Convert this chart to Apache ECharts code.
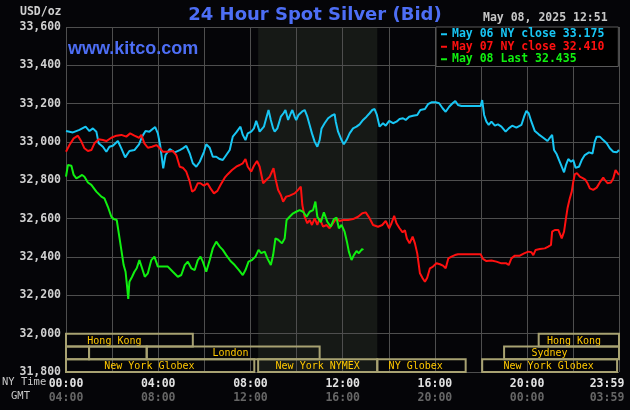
<!DOCTYPE html>
<html>
<head>
<meta charset="utf-8">
<script src="https://cdn.jsdelivr.net/npm/echarts@6/dist/echarts.min.js"></script>
<style>
    html, body { margin: 0; padding: 0; background: #050508; }
    #chart { width: 630px; height: 410px; }
</style>
</head>
<body>
<div id="chart"></div>
<script>
// x = minutes after 00:00 NY time, y = USD/oz
var may06Close = [
    [0,33.057],[18,33.05],[35,33.063],[51,33.08],[61,33.057],[70,33.071],[79,33.054],[85,32.993],[96,32.975],[105,32.949],
    [113,32.975],[122,32.98],[135,33.005],[144,32.967],[154,32.92],[165,32.953],[178,32.958],[190,32.988],[198,33.028],[207,33.057],
    [217,33.054],[232,33.078],[239,33.045],[245,32.984],[253,32.863],[259,32.932],[270,32.963],[283,32.946],[296,32.958],[304,32.967],
    [313,32.98],[322,32.94],[330,32.889],[339,32.871],[348,32.897],[359,32.949],[365,32.988],[374,32.97],[382,32.923],[391,32.923],
    [400,32.911],[408,32.906],[417,32.932],[426,32.958],[434,33.028],[443,33.05],[454,33.08],[460,33.037],[467,33.01],[473,33.045],
    [482,33.054],[489,33.071],[495,33.11],[504,33.054],[508,33.063],[515,33.08],[521,33.124],[527,33.167],[533,33.115],[539,33.071],
    [543,33.054],[550,33.071],[559,33.132],[566,33.15],[571,33.167],[578,33.115],[585,33.15],[589,33.167],[595,33.132],[599,33.115],
    [605,33.141],[614,33.158],[621,33.167],[628,33.132],[634,33.089],[640,33.045],[647,33.002],[654,32.975],[660,33.01],[665,33.071],
    [673,33.098],[682,33.124],[691,33.137],[699,33.145],[702,33.106],[708,33.054],[717,33.01],[723,32.988],[730,33.01],[738,33.045],
    [747,33.071],[756,33.08],[764,33.092],[773,33.115],[782,33.132],[790,33.15],[797,33.167],[803,33.172],[809,33.141],[816,33.08],
    [825,33.098],[832,33.085],[841,33.11],[851,33.098],[860,33.106],[868,33.12],[877,33.124],[884,33.115],[893,33.132],[903,33.137],
    [914,33.141],[922,33.167],[934,33.172],[942,33.197],[951,33.207],[962,33.207],[971,33.202],[980,33.176],[988,33.158],[997,33.184],
    [1006,33.202],[1013,33.214],[1020,33.193],[1029,33.188],[1079,33.188],[1083,33.219],[1088,33.141],[1094,33.106],[1100,33.089],[1107,33.106],
    [1116,33.085],[1124,33.092],[1133,33.08],[1144,33.054],[1152,33.071],[1161,33.085],[1172,33.075],[1185,33.089],[1192,33.132],[1198,33.162],
    [1204,33.15],[1211,33.106],[1220,33.057],[1230,33.04],[1242,33.022],[1253,33.005],[1259,33.022],[1265,33.037],[1270,32.958],[1277,32.936],
    [1283,32.906],[1290,32.871],[1296,32.842],[1301,32.88],[1307,32.911],[1314,32.897],[1320,32.906],[1326,32.866],[1335,32.871],[1342,32.906],
    [1350,32.932],[1361,32.946],[1370,32.94],[1376,33.002],[1381,33.028],[1389,33.028],[1398,33.01],[1407,32.993],[1415,32.967],[1424,32.949],
    [1433,32.946],[1439,32.958]
];
var may07Close = [
    [0,32.949],[9,32.984],[20,33.019],[31,33.033],[40,33.002],[48,32.967],[57,32.953],[66,32.958],[74,32.993],[85,33.014],
    [96,33.01],[105,33.005],[118,33.022],[131,33.033],[144,33.037],[157,33.028],[167,33.045],[178,33.033],[190,33.022],[196,33.037],
    [204,32.993],[213,32.97],[224,32.975],[235,32.984],[243,32.97],[252,32.949],[265,32.949],[278,32.953],[287,32.932],[296,32.871],
    [304,32.866],[313,32.845],[322,32.793],[328,32.741],[335,32.75],[343,32.785],[350,32.785],[359,32.772],[368,32.785],[376,32.758],
    [385,32.732],[394,32.745],[402,32.776],[413,32.814],[421,32.832],[432,32.854],[443,32.871],[452,32.88],[460,32.889],[467,32.911],
    [473,32.871],[482,32.845],[489,32.876],[497,32.901],[504,32.871],[513,32.785],[521,32.802],[530,32.819],[540,32.863],[545,32.81],
    [552,32.75],[559,32.724],[565,32.689],[573,32.715],[582,32.72],[595,32.732],[604,32.75],[611,32.767],[615,32.671],[621,32.61],
    [628,32.576],[634,32.593],[640,32.567],[647,32.602],[654,32.567],[660,32.602],[669,32.558],[678,32.567],[686,32.55],[695,32.576],
    [704,32.602],[712,32.588],[721,32.593],[734,32.593],[747,32.598],[760,32.61],[771,32.628],[780,32.633],[790,32.602],[799,32.567],
    [812,32.558],[823,32.567],[832,32.588],[841,32.55],[847,32.576],[854,32.615],[860,32.576],[868,32.55],[876,32.529],[882,32.54],
    [887,32.497],[894,32.471],[902,32.506],[908,32.471],[914,32.419],[921,32.315],[928,32.289],[934,32.271],[940,32.292],[947,32.341],
    [955,32.35],[964,32.367],[973,32.362],[981,32.355],[988,32.341],[995,32.393],[1003,32.402],[1012,32.41],[1020,32.414],[1079,32.414],
    [1085,32.39],[1094,32.379],[1107,32.382],[1120,32.376],[1133,32.367],[1146,32.367],[1152,32.358],[1159,32.393],[1168,32.407],[1181,32.407],
    [1192,32.419],[1203,32.428],[1211,32.425],[1216,32.41],[1222,32.437],[1233,32.442],[1246,32.445],[1255,32.454],[1262,32.463],[1265,32.532],
    [1272,32.541],[1281,32.541],[1285,32.532],[1290,32.497],[1296,32.532],[1301,32.602],[1305,32.654],[1311,32.706],[1316,32.741],[1320,32.793],
    [1324,32.832],[1330,32.837],[1337,32.819],[1346,32.81],[1352,32.802],[1357,32.785],[1363,32.758],[1372,32.75],[1381,32.762],[1389,32.789],
    [1398,32.814],[1402,32.802],[1409,32.785],[1418,32.789],[1424,32.81],[1430,32.854],[1435,32.849],[1439,32.828]
];
var may08Last = [
    [0,32.819],[5,32.88],[14,32.876],[20,32.828],[27,32.81],[35,32.819],[42,32.828],[48,32.819],[57,32.789],[66,32.776],
    [79,32.741],[92,32.715],[100,32.706],[109,32.662],[118,32.61],[124,32.598],[132,32.593],[138,32.515],[144,32.437],[150,32.358],
    [155,32.323],[159,32.245],[162,32.181],[165,32.271],[172,32.297],[178,32.323],[184,32.341],[191,32.384],[198,32.341],[205,32.297],
    [213,32.315],[222,32.384],[230,32.402],[239,32.35],[252,32.35],[265,32.35],[278,32.323],[291,32.297],[300,32.306],[309,32.358],
    [317,32.376],[326,32.341],[335,32.332],[343,32.384],[350,32.402],[356,32.376],[365,32.323],[374,32.384],[382,32.445],[391,32.48],
    [400,32.454],[408,32.437],[417,32.41],[428,32.379],[439,32.358],[450,32.332],[460,32.306],[467,32.332],[475,32.376],[484,32.384],
    [493,32.402],[501,32.437],[508,32.42],[517,32.428],[524,32.393],[533,32.358],[539,32.41],[545,32.497],[552,32.49],[562,32.471],
    [569,32.497],[574,32.593],[582,32.61],[591,32.628],[599,32.636],[608,32.645],[617,32.636],[626,32.61],[634,32.636],[643,32.645],
    [649,32.689],[654,32.61],[663,32.581],[671,32.633],[680,32.584],[689,32.558],[697,32.598],[704,32.605],[710,32.55],[717,32.567],
    [725,32.532],[731,32.48],[736,32.428],[743,32.384],[749,32.41],[756,32.431],[762,32.42],[771,32.442],[773,32.435]
];
var seriesNames = ['May 06 NY close 33.175', 'May 07 NY close 32.410', 'May 08 Last 32.435'];

var tickMinutes = [0, 240, 480, 720, 960, 1200, 1439];
var nyTimeLabels = ['00:00', '04:00', '08:00', '12:00', '16:00', '20:00', '23:59'];
var gmtLabels = ['04:00', '08:00', '12:00', '16:00', '20:00', '00:00', '03:59'];

// NYMEX trading window (shaded), minutes
var nymexWindow = [[500, 810]];

// market session strips at the bottom: row 0 top, row 2 bottom
var sessionNames = ['Hong Kong', 'Hong Kong', '', '', 'London', 'Sydney', 'New York Globex', 'New York NYMEX', 'NY Globex', 'New York Globex'];
var sessionStart = [0, 1230, 0, 60, 210, 1140, 0, 500, 810, 1083];
var sessionEnd = [330, 1439, 60, 210, 660, 1439, 490, 810, 1040, 1434];
var sessionRow = [0, 0, 1, 1, 1, 1, 2, 2, 2, 2];
var sessionLabelAt = [126, 1322, 30, 135, 428, 1258, 217, 655, 910, 1256];

var MONO = 'DejaVu Sans Mono';
var colors = ['#18c6f4', '#ff1010', '#10f010'];

var chart = echarts.init(document.getElementById('chart'));

var stripTop = 32.0, band = 0.2 / 3;

function renderSession(params, api) {
    var row = api.value(2);
    var top = stripTop - row * band, bottom = top - band;
    var p1 = api.coord([api.value(0), top]);
    var p2 = api.coord([api.value(1), bottom]);
    var mid = api.coord([api.value(3), (top + bottom) / 2]);
    return {
        type: 'group',
        children: [
            {
                type: 'rect',
                shape: { x: p1[0], y: p1[1], width: p2[0] - p1[0], height: p2[1] - p1[1] },
                style: { fill: null, stroke: '#a8a272', lineWidth: 2 }
            },
            {
                type: 'text',
                x: mid[0], y: mid[1] + 1,
                style: {
                    text: sessionNames[params.dataIndex], fill: '#ffc800',
                    font: '10px "' + MONO + '"', align: 'center', verticalAlign: 'middle'
                }
            }
        ]
    };
}

function renderShade(params, api) {
    var p1 = api.coord([api.value(0), 33.6]);
    var p2 = api.coord([api.value(1), 31.8]);
    return {
        type: 'rect',
        shape: { x: p1[0], y: p1[1], width: p2[0] - p1[0], height: p2[1] - p1[1] },
        style: { fill: '#161916' }
    };
}

var sessionData = sessionNames.map(function (n, i) {
    return [sessionStart[i], sessionEnd[i], sessionRow[i], sessionLabelAt[i]];
});

var lineData = [may06Close, may07Close, may08Last];
var lines = lineData.map(function (d, i) {
    return {
        name: seriesNames[i],
        type: 'line',
        data: d,
        showSymbol: false,
        lineStyle: { color: colors[i], width: 2 },
        itemStyle: { color: colors[i] },
        z: 3
    };
});

var labelA = { fontFamily: MONO, fontSize: 11.5, fontWeight: 'bold', color: '#e2e2e2', lineHeight: 14 };
var labelB = { fontFamily: MONO, fontSize: 11.5, fontWeight: 'bold', color: '#666666', lineHeight: 14 };

var option = {
    backgroundColor: '#050508',
    animation: false,
    // v6 shrinks the grid to keep labels inside; keep the plot box fixed instead
    grid: { left: 66, right: 11, top: 27, bottom: 38, outerBoundsMode: 'none' },
    legend: {
        left: 436, top: 27, orient: 'vertical',
        icon: 'rect', itemWidth: 6, itemHeight: 2, itemGap: 0,
        padding: [1, 14, 1, 5],
        backgroundColor: '#000', borderColor: '#5a5a5a', borderWidth: 1,
        selectedMode: false,
        textStyle: { fontFamily: MONO, fontSize: 11.5, fontWeight: 'bold', lineHeight: 12.5 },
        data: seriesNames.map(function (n, i) {
            return { name: n, textStyle: { color: colors[i] }, itemStyle: { color: colors[i] } };
        })
    },
    xAxis: {
        type: 'value', min: 0, max: 1439, interval: 120,
        axisLine: { show: false }, axisTick: { show: false },
        splitLine: { show: true, lineStyle: { color: '#4e4e4e', width: 1 } },
        axisLabel: {
            showMinLabel: true, showMaxLabel: true, margin: 5,
            formatter: function (v) {
                var i = tickMinutes.indexOf(Math.round(v));
                if (i < 0) return '';
                // last label sits a bit left of the right edge
                var last = i === tickMinutes.length - 1;
                return '{' + (last ? 'c' : 'a') + '|' + nyTimeLabels[i] + '}\n{' + (last ? 'd' : 'b') + '|' + gmtLabels[i] + '}';
            },
            rich: {
                a: labelA,
                b: labelB,
                c: Object.assign({}, labelA, { padding: [0, 24, 0, 0] }),
                d: Object.assign({}, labelB, { padding: [0, 24, 0, 0] })
            }
        }
    },
    yAxis: {
        type: 'value', min: 31.8, max: 33.6, interval: 0.2,
        axisLine: { show: false }, axisTick: { show: false },
        splitLine: { show: true, lineStyle: { color: '#4e4e4e', width: 1 } },
        axisLabel: {
            margin: 5, color: '#d0d0d0', fontFamily: MONO, fontSize: 11.5, fontWeight: 'bold',
            formatter: function (v) { return v.toFixed(3).replace('.', ','); }
        }
    },
    graphic: [
        { type: 'text', left: 20, top: 6, style: { text: 'USD/oz', fill: '#d0d0d0', font: 'bold 11.5px "' + MONO + '"' } },
        { type: 'text', left: 'center', top: 6, style: { text: '24 Hour Spot Silver (Bid)', fill: '#4d6ef5', font: 'bold 18px "DejaVu Sans"' } },
        { type: 'text', left: 483, top: 12, style: { text: 'May 08, 2025 12:51', fill: '#c8c8c8', font: 'bold 11.5px "' + MONO + '"' } },
        { type: 'text', left: 68, top: 40, z: 10, style: { text: 'www.kitco.com', fill: '#4d6ef5', font: 'bold 18px "Liberation Sans"' } },
        { type: 'text', left: 2, top: 377, style: { text: 'NY Time', fill: '#c8c8c8', font: '10.5px "' + MONO + '"' } },
        { type: 'text', left: 11, top: 391, style: { text: 'GMT', fill: '#c8c8c8', font: '10.5px "' + MONO + '"' } }
    ],
    series: [
        {
            type: 'custom', z: -1, silent: true,
            renderItem: renderShade,
            data: nymexWindow
        },
        {
            type: 'custom', z: 4, silent: true,
            renderItem: renderSession,
            data: sessionData
        }
    ].concat(lines)
};

chart.setOption(option);
</script>
</body>
</html>
